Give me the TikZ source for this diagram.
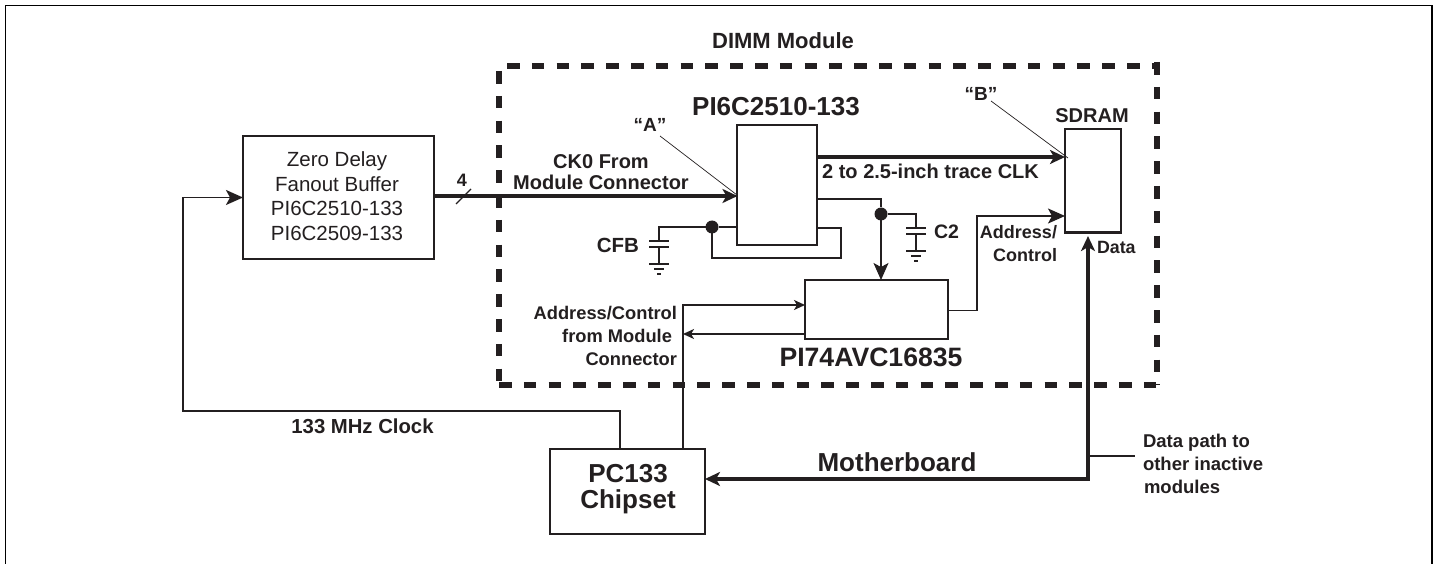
\documentclass[tikz,border=0pt]{standalone}
\usepackage{fontspec}
\setmainfont{Liberation Sans}
\usetikzlibrary{arrows.meta}
\definecolor{ink}{HTML}{231F20}
\newcommand{\lblfont}[1]{\bfseries\fontsize{#1}{#1}\selectfont}
\tikzset{box/.style = {shape=rectangle,draw=ink,line width=2pt,inner sep=0pt,outer sep=0pt}}
\tikzset{lbl/.style = {text=ink,inner sep=0pt,outer sep=0pt,align=center}}
\tikzset{wire/.style = {draw=ink,line width=1.6pt}}
\tikzset{edge/.style = {wire,-{Stealth[length=17pt,width=15pt,inset=4pt]}}}
\tikzset{minor/.style = {wire,-{Stealth[length=11pt,width=10pt,inset=3pt]}}}
\tikzset{bus/.style = {draw=ink,line width=3.8pt,-{Stealth[length=15pt,width=14pt,inset=4pt]}}}
\tikzset{leader/.style = {draw=ink,line width=0.7pt}}
\tikzset{dot/.style = {shape=circle,fill=ink,inner sep=0pt,outer sep=0pt,minimum size=13pt}}
\tikzset{dimm/.style = {draw=ink,line width=6pt,dash pattern=on 12.6pt off 12.2pt}}
\tikzset{capgnd/.pic = {
    \draw[wire] (-10,0) -- (10,0);
    \draw[wire] (-10,6) -- (10,6);
    \draw[wire] (0,6) -- (0,23);
    \draw[wire] (-10,23) -- (10,23);
    \draw[wire] (-5,28) -- (5,28);
    \draw[wire] (-2,33) -- (2,33);
}}

\begin{document}
\begin{tikzpicture}[x=1pt,y=-1pt]
    \useasboundingbox (0,0) rectangle (1438,564);
    \draw[black,line width=1.5pt] (5.3,564) -- (5.3,5.3) -- (1432,5.3) -- (1432,564);

    % dashed module outline
    \draw[dimm] (507,66) -- (1157,66);
    \draw[dimm] (499,71) -- (499,385);
    \draw[dimm] (499,385) -- (1160,385);
    \draw[dimm] (1157,62) -- (1157,385);

    % blocks
    \node[box,line width=2.6pt,minimum width=191pt,minimum height=123pt] (fanout) at (338.5,197.5) {};
    \node[box,minimum width=79.5pt,minimum height=120.5pt] (pll) at (777.2,184.8) {};
    \node[box,line width=2.6pt,minimum width=56pt,minimum height=103.5pt] (sdram) at (1093,180.8) {};
    \node[box,minimum width=143pt,minimum height=59pt] (reg) at (876.5,309.5) {};
    \node[box,minimum width=155pt,minimum height=85pt] (chipset) at (627.5,491.5) {};

    % junctions and bends
    \node[dot] (fbdot) at (712,227) {};
    \node[dot] (outdot) at (881,214) {};
    \coordinate (clkbend) at (183,411);
    \coordinate (clkup) at (620,411);
    \coordinate (addrup) at (683,305);
    \coordinate (addrout) at (977,310.5);
    \coordinate (addrin) at (977,216);
    \coordinate (outbend) at (881,199);
    \coordinate (fbbend) at (841,258);
    \coordinate (databend) at (1088,479);
    \coordinate (stub) at (1135,456);
    \coordinate (cfbtop) at (659,241);
    \coordinate (ctwotop) at (916,228);
    \coordinate (tickl) at (456,204);
    \coordinate (tickr) at (471,189);
    \coordinate (afoot) at (660,136);
    \coordinate (atip) at (737,195);
    \coordinate (bfoot) at (991,101);
    \coordinate (btip) at (1068,158);

    % clock
    \draw[edge] (clkup |- chipset.north) -- (clkup) -- (clkbend) -- (clkbend |- fanout.west) -- (fanout.west);
    \draw[bus] (fanout.east |- 0,196) -- (pll.west |- 0,196);
    \draw[wire,line width=1.2pt] (tickl) -- (tickr);
    \draw[bus] (pll.east |- 0,157) -- (sdram.west |- 0,157);
    \draw[leader] (afoot) -- (atip);
    \draw[leader] (bfoot) -- (btip);

    % feedback and capacitors
    \draw[wire] (pll.west |- fbdot) -- (fbdot);
    \draw[wire] (fbdot) -| (cfbtop);
    \draw[wire] (fbdot) |- (fbbend) -- (fbbend |- 0,228) -- (pll.east |- 0,228);
    \draw[wire] (pll.east |- outbend) -- (outbend) -- (outdot);
    \draw[edge] (outdot) -- (outdot |- reg.north);
    \draw[wire] (outdot) -| (ctwotop);
    \pic at (cfbtop) {capgnd};
    \pic at (ctwotop) {capgnd};

    % address and control
    \draw[minor] (addrup |- chipset.north) -- (addrup) -- (reg.west |- addrup);
    \draw[minor] (reg.west |- 0,334) -- (addrup |- 0,334);
    \draw[edge] (reg.east |- addrout) -- (addrout) -- (addrin) -- (sdram.west |- addrin);

    % data
    \draw[bus,{Stealth[length=15pt,width=14pt,inset=4pt]}-{Stealth[length=15pt,width=14pt,inset=4pt]},shorten >=3.5pt] (chipset.east |- databend) -- (databend) -- (databend |- sdram.south);
    \draw[wire] (databend |- stub) -- (stub);

    % labels
    \node[lbl,font=\lblfont{22}] (dimmlbl) at (783,41) {DIMM Module};
    \node[lbl,font=\lblfont{26}] (plllbl) at (776,107) {PI6C2510-133};
    \node[lbl,font=\lblfont{19}] (alabel) at (650,125) {“A”};
    \node[lbl,font=\lblfont{19}] (blabel) at (981,94) {“B”};
    \node[lbl,font=\lblfont{20}] (sdramlbl) at (1092,116) {SDRAM};
    \node[lbl,font=\lblfont{20}] (tracelbl) at (930.5,171) {2 to 2.5-inch trace CLK};
    \node[lbl,font=\lblfont{20}] (cklbl) at (601,172.5) {CK0 From\\[1pt]Module Connector};
    \node[lbl,font=\lblfont{18}] (fourlbl) at (462,180) {4};
    \node[lbl,font=\fontsize{20.5}{24.5}\selectfont] (fanoutlbl) at (337,196) {Zero Delay\\Fanout Buffer\\PI6C2510-133\\PI6C2509-133};
    \node[lbl,font=\lblfont{20.5},anchor=east] (cfblbl) at (639,245) {CFB};
    \node[lbl,font=\lblfont{19.5},anchor=west] (ctwolbl) at (934,232) {C2};
    \node[lbl,font=\lblfont{18},align=right,anchor=east] (addrlbl) at (1057,243.5) {Address/\\[4.5pt]Control};
    \node[lbl,font=\lblfont{17.8},anchor=west] (datalbl) at (1097,247) {Data};
    \node[lbl,font=\lblfont{18.3},anchor=east] (fromone) at (677,313) {Address/Control};
    \node[lbl,font=\lblfont{18.3},anchor=east] (fromtwo) at (672,336) {from Module};
    \node[lbl,font=\lblfont{18.3},anchor=east] (fromthree) at (677,359) {Connector};
    \node[lbl,font=\lblfont{26.6}] (reglbl) at (871,357) {PI74AVC16835};
    \node[lbl,font=\lblfont{20.3}] (clklbl) at (362.5,426.7) {133 MHz Clock};
    \node[lbl,font=\lblfont{26}] (mblbl) at (897,462) {Motherboard};
    \node[lbl,font=\lblfont{26}] (pclbl) at (628,474) {PC133};
    \node[lbl,font=\lblfont{26}] (cslbl) at (628,502) {Chipset};
    \node[lbl,font=\lblfont{18.5},anchor=west] (pathone) at (1143,443) {Data path to};
    \node[lbl,font=\lblfont{18.5},anchor=west] (pathtwo) at (1143,464) {other inactive};
    \node[lbl,font=\lblfont{18.5},anchor=west] (paththree) at (1144,487) {modules};
\end{tikzpicture}
\end{document}
